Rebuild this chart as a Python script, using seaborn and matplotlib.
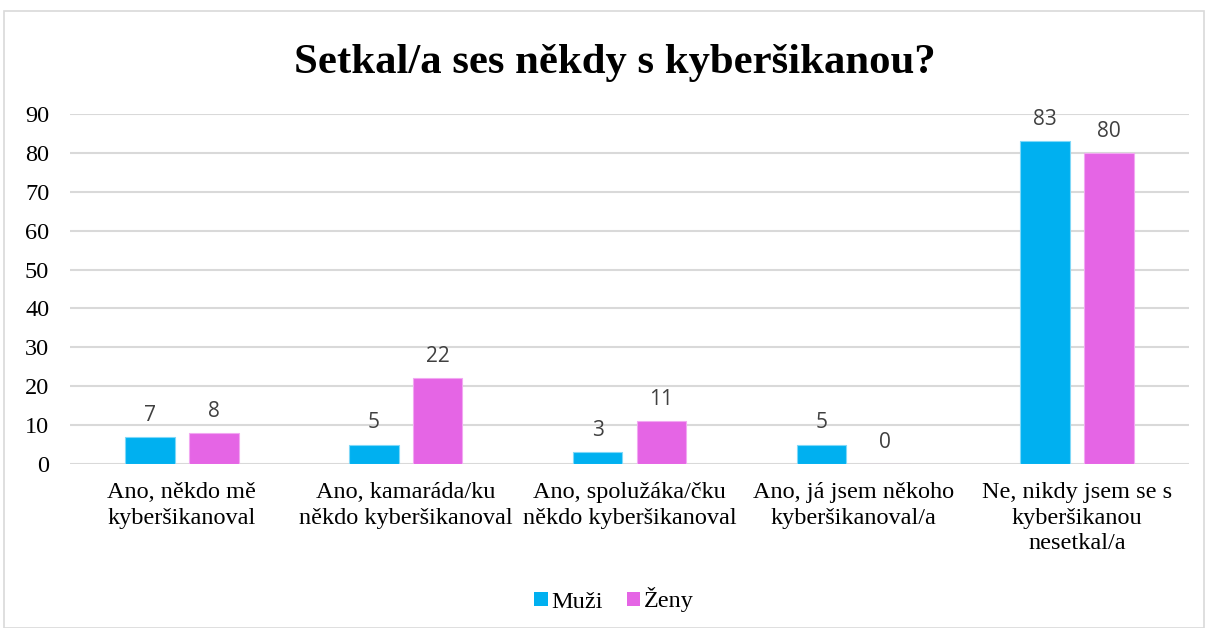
import matplotlib
matplotlib.use("Agg")
import matplotlib.pyplot as plt
import seaborn as sns
import pandas as pd
from matplotlib.patches import Rectangle, Patch

categories = [
    "Ano, někdo mě\nkyberšikanoval",
    "Ano, kamaráda/ku\nněkdo kyberšikanoval",
    "Ano, spolužáka/čku\nněkdo kyberšikanoval",
    "Ano, já jsem někoho\nkyberšikanoval/a",
    "Ne, nikdy jsem se s\nkyberšikanou\nnesetkal/a",
]
muzi = [7, 5, 3, 5, 83]
zeny = [8, 22, 11, 0, 80]
series = ["Muži", "Ženy"]
colors = ["#00B0F0", "#E565E5"]
yticks = [0, 10, 20, 30, 40, 50, 60, 70, 80, 90]

df = pd.DataFrame({
    "cat": categories * 2,
    "val": muzi + zeny,
    "ser": [series[0]] * len(categories) + [series[1]] * len(categories),
})

sns.set_theme(style="white")
plt.rcParams["font.family"] = ["Liberation Serif", "DejaVu Serif"]
plt.rcParams["text.color"] = "black"

fig = plt.figure(figsize=(12.08, 6.28), dpi=100)
ax = fig.add_axes([70 / 1208, 1 - 464 / 628, (1189 - 70) / 1208, (464 - 114) / 628])

sns.barplot(data=df, x="cat", y="val", hue="ser", palette=colors, ax=ax,
            width=0.57, gap=0.22, order=categories, hue_order=series,
            saturation=1, edgecolor="none", linewidth=0)

for cont, col in zip(ax.containers, ["#7FD8F8", "#F2A8F2"]):
    for p in cont:
        p.set_edgecolor(col)
        p.set_linewidth(0.8)
    ax.bar_label(cont, labels=[str(int(v)) for v in cont.datavalues], padding=8,
                 fontsize=15, color="#404040", family=["Open Sans", "DejaVu Sans"])

ax.set_ylim(0, 90)
ax.set_yticks(yticks)
ax.set_xlim(-0.5, 4.5)
ax.yaxis.grid(True, color="#D9D9D9", linewidth=1.5)
ax.set_axisbelow(True)
for s in ax.spines.values():
    s.set_visible(False)
ax.tick_params(axis="both", length=0, labelsize=17.5, colors="black")
ax.tick_params(axis="y", pad=15)
ax.tick_params(axis="x", pad=13)
ax.set_xlabel("")
ax.set_ylabel("")
for lbl in ax.get_xticklabels():
    lbl.set_horizontalalignment("center")
    lbl.set_multialignment("center")
    lbl.set_linespacing(1.28)

fig.suptitle("Setkal/a ses někdy s kyberšikanou?", x=615 / 1208, y=1 - 63 / 628, va="center",
             fontsize=30.8, fontweight="bold", color="black")

ax.legend_.remove()
hs = [Patch(facecolor=c, edgecolor="none") for c in colors]
fig.legend(hs, series, loc="center", bbox_to_anchor=(614 / 1208, 1 - 600 / 628), ncol=2,
           frameon=False, fontsize=17.5, handlelength=0.55, handleheight=0.55,
           handletextpad=0.15, columnspacing=1.0)

fig.patches.append(Rectangle((4 / 1208, 0), (1204 - 4) / 1208, 1 - 11 / 628,
                             transform=fig.transFigure, fill=False,
                             edgecolor="#D9D9D9", linewidth=1.2))

fig.savefig("out.png", dpi=100, facecolor="white")
